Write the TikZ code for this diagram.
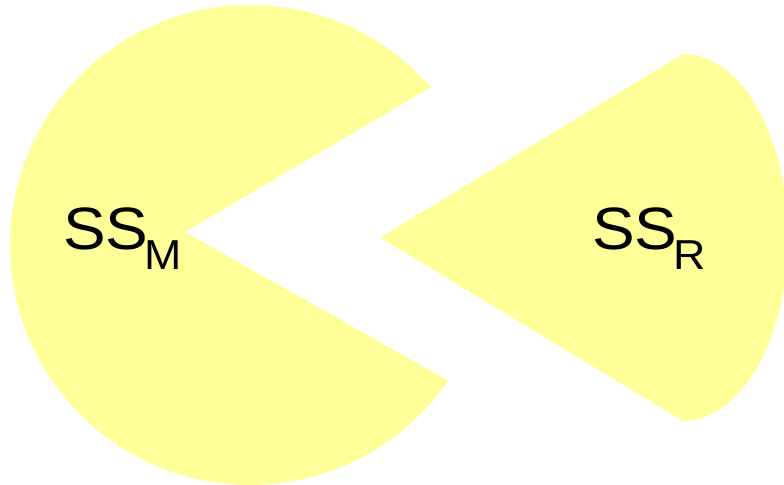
\documentclass[tikz,border=0pt]{standalone}
\usepackage{fontspec}
\setmainfont{Liberation Sans}
\definecolor{paleyellow}{HTML}{FFFF99}
\tikzset{
  blob/.style={fill=paleyellow, draw=none},
  lbl/.style={anchor=base west, inner sep=0pt, outer sep=0pt, font=\fontsize{60}{60}\selectfont}
}
\newcommand{\sslabel}[1]{\scalebox{1.07}[1]{SS\kern-3.7bp\raisebox{-19.5bp}{\fontsize{42}{42}\selectfont #1}}}
\begin{document}
\begin{tikzpicture}[x=1bp,y=1bp]
\useasboundingbox (0,0) rectangle (784,485);
\clip (0,0) rectangle (784,485);
% left pac-man
\coordinate (mc) at (250,240);
\coordinate (ma) at (185,253);
\fill[blob] (ma) -- ([shift={(41.1:240)}]mc) arc[start angle=41.1, end angle=325.6, radius=240] -- cycle;
% right wedge
\coordinate (ra) at (380,247.5);
\coordinate (rt) at (683,431);
\coordinate (rb) at (683,64);
\fill[blob] (ra) -- (rt) arc[start angle=90, end angle=-90, x radius=105, y radius=183.5] -- (rb) -- cycle;
% labels
\node[lbl] (ssm) at (63,235) {\sslabel{M}};
\node[lbl] (ssr) at (592,235) {\sslabel{R}};
\end{tikzpicture}
\end{document}
